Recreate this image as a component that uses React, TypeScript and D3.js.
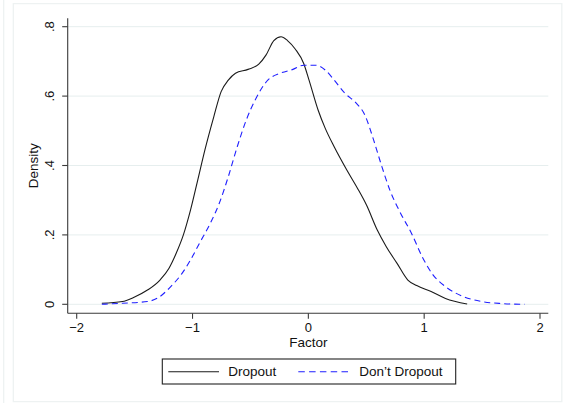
import React from "react";
import * as d3 from "d3";

const dropoutX = [-1.783, -1.606, -1.513, -1.389, -1.281, -1.203, -1.141, -1.079, -1.017, -0.955, -0.893, -0.816, -0.753, -0.691, -0.629, -0.521, -0.428, -0.366, -0.298, -0.236, -0.18, -0.112, -0.04, 0.006, 0.084, 0.146, 0.223, 0.332, 0.425, 0.502, 0.595, 0.673, 0.766, 0.859, 0.936, 1.06, 1.184, 1.371];
const dropoutY = [0.003, 0.008, 0.019, 0.041, 0.07, 0.104, 0.147, 0.2, 0.272, 0.358, 0.445, 0.541, 0.613, 0.646, 0.666, 0.677, 0.692, 0.718, 0.76, 0.771, 0.76, 0.735, 0.694, 0.646, 0.56, 0.507, 0.454, 0.387, 0.334, 0.286, 0.214, 0.166, 0.118, 0.07, 0.054, 0.037, 0.017, 0.001];

const stayX = [-1.783, -1.606, -1.389, -1.296, -1.188, -1.095, -1.017, -0.94, -0.847, -0.769, -0.691, -0.614, -0.536, -0.459, -0.35, -0.242, -0.133, -0.04, 0.068, 0.146, 0.223, 0.316, 0.409, 0.487, 0.564, 0.626, 0.704, 0.797, 0.89, 0.983, 1.076, 1.184, 1.34, 1.494, 1.681, 1.867];
const stayY = [0.0, 0.003, 0.008, 0.019, 0.051, 0.087, 0.128, 0.176, 0.233, 0.291, 0.368, 0.454, 0.531, 0.589, 0.646, 0.666, 0.677, 0.689, 0.689, 0.675, 0.646, 0.608, 0.581, 0.546, 0.473, 0.406, 0.329, 0.262, 0.205, 0.137, 0.085, 0.051, 0.022, 0.008, 0.002, 0.0];

const xTicks = [-2, -1, 0, 1, 2];
const xTickLabels = ["\u22122", "\u22121", "0", "1", "2"];
const yTicks = [0, 0.2, 0.4, 0.6, 0.8];
const yTickLabels = ["0", ".2", ".4", ".6", ".8"];
const seriesNames = ["Dropout", "Don\u2019t Dropout"];

const W = 563;
const H = 403;
const FONT = "'Liberation Sans', Arial, sans-serif";

export default function App() {
  const x = d3.scaleLinear().domain([-2, 2]).range([76.7, 540]);
  const y = d3.scaleLinear().domain([0, 0.8]).range([304.3, 26.7]);
  const axisLeft = 67.7;
  const axisBottom = 313.3;
  const plotTop = 18.3;
  const plotRight = 548.3;

  const line = d3
    .line<[number, number]>()
    .x((d) => x(d[0]))
    .y((d) => y(d[1]))
    .curve(d3.curveMonotoneX);

  const dropPts: [number, number][] = dropoutX.map((v, i) => [v, dropoutY[i]]);
  const stayPts: [number, number][] = stayX.map((v, i) => [v, stayY[i]]);

  const axisColor = "#3a3a3a";
  const gridColor = "#e6eeee";
  const textColor = "#111";

  return (
    <div style={{ position: "absolute", left: 0, top: 0 }}>
      <svg width={W} height={H} style={{ display: "block", background: "#fff" }}>
        {/* outer faint frames */}
        <line x1={3.7} x2={3.7} y1={0} y2={H} stroke="#eef2f2" strokeWidth={1.3} />
        <rect x={13.3} y={3.6} width={548.5} height={398} fill="none" stroke="#eef2f2" strokeWidth={1.3} />

        {/* gridlines */}
        {yTicks.map((t) => (
          <line key={"g" + t} x1={axisLeft} x2={plotRight} y1={y(t)} y2={y(t)} stroke={gridColor} strokeWidth={1} />
        ))}

        {/* curves */}
        <path d={line(dropPts) || ""} fill="none" stroke="#1a1a1a" strokeWidth={1.1} />
        <path d={line(stayPts) || ""} fill="none" stroke="#1f1fff" strokeWidth={1.1} strokeDasharray="6,4" />

        {/* axes */}
        <line x1={axisLeft} x2={axisLeft} y1={plotTop} y2={axisBottom} stroke={axisColor} strokeWidth={1.1} />
        <line x1={axisLeft} x2={plotRight} y1={axisBottom} y2={axisBottom} stroke={axisColor} strokeWidth={1.1} />

        {yTicks.map((t, i) => (
          <g key={"y" + t}>
            <line x1={axisLeft - 5.5} x2={axisLeft} y1={y(t)} y2={y(t)} stroke={axisColor} strokeWidth={1.1} />
            <text
              transform={`translate(53.5,${y(t)}) rotate(-90)`}
              textAnchor="middle"
              fontFamily={FONT}
              fontSize={13}
              fill={textColor}
            >
              {yTickLabels[i]}
            </text>
          </g>
        ))}

        {xTicks.map((t, i) => (
          <g key={"x" + t}>
            <line x1={x(t)} x2={x(t)} y1={axisBottom} y2={axisBottom + 5.5} stroke={axisColor} strokeWidth={1.1} />
            <text x={x(t)} y={332.3} textAnchor="middle" fontFamily={FONT} fontSize={13} fill={textColor}>
              {xTickLabels[i]}
            </text>
          </g>
        ))}

        <text x={308.3} y={346.5} textAnchor="middle" fontFamily={FONT} fontSize={13.5} fill={textColor}>
          Factor
        </text>
        <text
          transform={`translate(37.5,165.7) rotate(-90)`}
          textAnchor="middle"
          fontFamily={FONT}
          fontSize={13.5}
          fill={textColor}
        >
          Density
        </text>

        {/* legend */}
        <rect x={162.3} y={359} width={293.4} height={25} fill="#fff" stroke="#222" strokeWidth={1.1} />
        <line x1={168.3} x2={219} y1={371.7} y2={371.7} stroke="#1a1a1a" strokeWidth={1.1} />
        <text x={228.3} y={376} fontFamily={FONT} fontSize={13.5} fill={textColor}>
          {seriesNames[0]}
        </text>
        <line x1={298.3} x2={352} y1={371.7} y2={371.7} stroke="#1f1fff" strokeWidth={1.1} strokeDasharray="6.5,4.3" />
        <text x={359.3} y={376} fontFamily={FONT} fontSize={13.5} fill={textColor}>
          {seriesNames[1]}
        </text>
      </svg>
    </div>
  );
}
